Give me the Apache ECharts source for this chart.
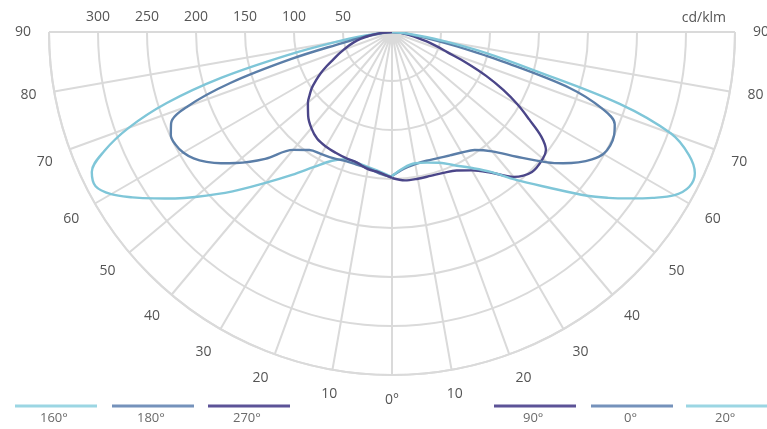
<!DOCTYPE html>
<html><head><meta charset="utf-8">
<script src="https://cdn.jsdelivr.net/npm/echarts@6/dist/echarts.min.js"></script>
<style>html,body{margin:0;padding:0;background:#fff}#c{width:767px;height:429px}</style>
</head><body><div id="c"></div>
<script>
// Photometric angle gamma (degrees from nadir), shared by all C-planes
const gammaAngles = [0,5,10,15,20,25,30,35,40,45,50,52.5,55,57.5,60,62.5,65,67.5,70,72.5,75,77.5,80,82.5,85,90];
// Luminous intensity, cd/klm
const c160 = [148,143,140,138,138,145,159,178,201,230,262,279,296,314,331,341,338,318,286,241,180,110,58,25,8,0];
const c180 = [148,145,141,140,140,142,144,147,157,183,208,220,231,240,246,249,249,244,222,173,107,52,30,14,5,0];
const c270 = [149,144,142,138,137,136,135,133,128,121,112,106,100,92,84,75,66,59,52,46,40,33,25,17,10,0];
const c90  = [149,152,152,152,153,156,163,175,193,202,201,198,186,166,148,128,106,82,60,47,36,26,18,12,8,0];
const c0   = [147,140,137,136,137,139,142,147,159,180,207,220,232,242,249,251,250,246,228,190,118,68,38,18,7,0];
const c20  = [147,139,136,138,142,150,160,174,197,224,260,278,296,315,333,342,341,328,303,243,148,97,55,25,10,0];

const planeNames = ['160°','180°','270°','90°','0°','20°'];
const planeValues = [c160, c180, c270, c90, c0, c20];
const planeSide = [-1,-1,-1,1,1,1];
const planeColors = ['#7fc6d8','#5b7ea8','#4b4689','#4b4689','#5b7ea8','#7fc6d8'];
const legendColors = ['#9bd6e3','#7592bb','#5c5397','#5c5397','#7592bb','#9bd6e3'];
const legendLeft = [15,112,208,494,591,686];

const gridColor = '#dadada';
const textColor = '#555';
const fontFam = 'Open Sans';

const chart = echarts.init(document.getElementById('c'), null, {renderer:'canvas'});

const series = planeNames.map((name,k) => ({
  name: name,
  type: 'line',
  coordinateSystem: 'polar',
  showSymbol: false,
  smooth: 0.35,
  color: legendColors[k],
  lineStyle: {color: planeColors[k], width: 2.4},
  data: planeValues[k].map((v,i) => [v, planeSide[k]*gammaAngles[i]])
}));

const legends = planeNames.map((name,k) => {
  const w = name.length * 8;
  return {
    data: [name],
    left: legendLeft[k],
    top: 382,
    padding: 0,
    icon: 'rect',
    itemWidth: 82,
    itemHeight: 3,
    selectedMode: false,
    formatter: n => '\n' + n,
    textStyle: {color: '#6a6a6a', fontSize: 13, fontFamily: fontFam, lineHeight: 24,
      padding: [0, 0, 0, -(87 - 41 + w/2)]}
  };
});

chart.setOption({
  animation: false,
  backgroundColor: '#fff',
  title: {text: 'cd/klm', right: 36, top: 6,
    textStyle: {color: textColor, fontSize: 14, fontWeight: 'normal', fontFamily: fontFam}},
  legend: legends,
  polar: {center: [392, 32], radius: 343},
  angleAxis: {
    type: 'value', min: -90, max: 90, interval: 10,
    startAngle: 180, endAngle: 360, clockwise: false,
    axisLine: {show: true, lineStyle: {color: gridColor, width: 2}},
    axisTick: {show: false},
    axisLabel: {margin: 18, color: textColor, fontSize: 14, fontFamily: fontFam,
      formatter: v => v === 0 ? '0°' : String(Math.abs(v))},
    splitLine: {show: true, lineStyle: {color: gridColor, width: 2}}
  },
  radiusAxis: {
    type: 'value', min: 0, max: 350, interval: 50,
    axisLine: {show: false}, axisTick: {show: false},
    axisLabel: {color: textColor, fontSize: 14, fontFamily: fontFam, margin: -15, verticalAlign: 'middle',
      formatter: v => (v === 0 || v === 350) ? '' : String(v)},
    splitLine: {show: true, lineStyle: {color: gridColor, width: 2}}
  },
  series: series
});
</script></body></html>
